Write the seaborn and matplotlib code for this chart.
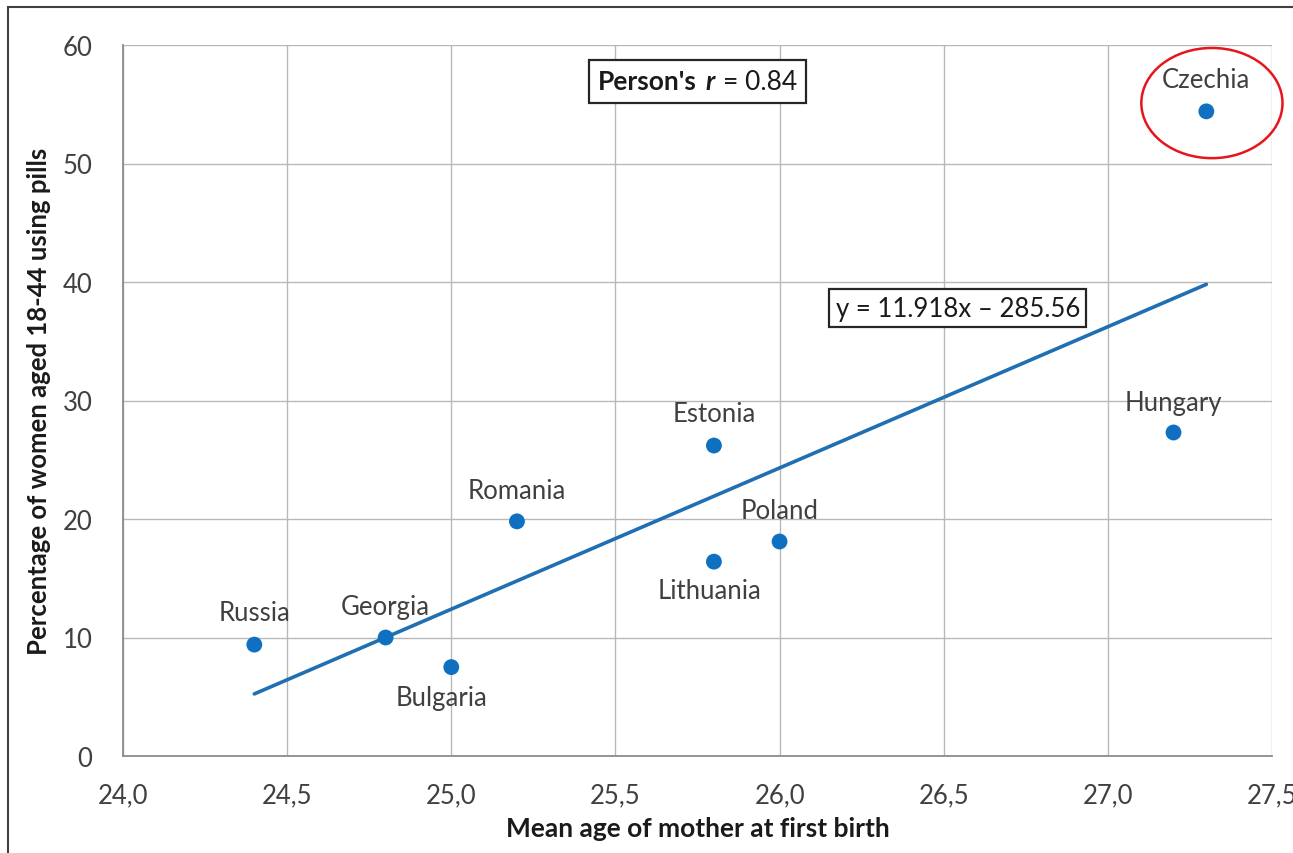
import numpy as np
import pandas as pd
import seaborn as sns
import matplotlib.pyplot as plt
from matplotlib.patches import Ellipse, Rectangle
from matplotlib.offsetbox import TextArea, HPacker, AnnotationBbox
from matplotlib.ticker import FuncFormatter, MultipleLocator

# data
countries = ['Russia', 'Georgia', 'Bulgaria', 'Romania', 'Estonia',
             'Lithuania', 'Poland', 'Hungary', 'Czechia']
mean_age = [24.4, 24.8, 25.0, 25.2, 25.8, 25.8, 26.0, 27.2, 27.3]
pill_pct = [9.4, 10.0, 7.5, 19.8, 26.2, 16.4, 18.1, 27.3, 54.4]

# trend line as given on the chart
slope = 11.918
intercept = -285.56

# label offsets in pixels (dx, dy)
label_offsets = {
    'Russia': (0, 32), 'Georgia': (0, 31), 'Bulgaria': (-10, -30),
    'Romania': (0, 31), 'Estonia': (0, 32), 'Lithuania': (-4, -29),
    'Poland': (0, 31), 'Hungary': (0, 30), 'Czechia': (0, 32),
}

df = pd.DataFrame({'country': countries, 'age': mean_age, 'pct': pill_pct})

sns.set_theme(style='white')
plt.rcParams['font.family'] = ['Lato', 'DejaVu Sans']

TXT = '#404040'
BLUE = '#0F6FC0'
LINE = '#1F6FB2'

fig = plt.figure(figsize=(12.93, 8.54), dpi=100)
ax = fig.add_axes([123 / 1293, 1 - 757 / 854, (1272 - 123) / 1293, (757 - 46) / 854])

# trend line
xl = np.array([df['age'].min(), df['age'].max()])
sns.lineplot(x=xl, y=slope * xl + intercept, ax=ax, color=LINE, lw=2.6, zorder=3)

sns.scatterplot(data=df, x='age', y='pct', ax=ax, s=130, color=BLUE,
                edgecolor='none', zorder=4)

for _, row in df.iterrows():
    dx, dy = label_offsets[row['country']]
    ax.annotate(row['country'], (row['age'], row['pct']), xytext=(dx, dy),
                textcoords='offset pixels', ha='center', va='center',
                fontsize=18.5, color=TXT, zorder=5)

ax.set_xlim(24.0, 27.5)
ax.set_ylim(0, 60)
ax.xaxis.set_major_locator(MultipleLocator(0.5))
ax.yaxis.set_major_locator(MultipleLocator(10))
ax.xaxis.set_major_formatter(FuncFormatter(lambda v, p: f'{v:.1f}'.replace('.', ',')))
ax.grid(True, color='#B8B8B8', lw=1.0)
ax.set_axisbelow(True)
for sp in ax.spines.values():
    sp.set_visible(False)
for side in ['left', 'bottom']:
    ax.spines[side].set_visible(True)
    ax.spines[side].set_color('#8C8C8C')
    ax.spines[side].set_linewidth(1.3)
ax.tick_params(axis='both', length=0, labelsize=18.5, labelcolor=TXT)
ax.tick_params(axis='y', pad=22)
ax.tick_params(axis='x', pad=19)

ax.set_xlabel('Mean age of mother at first birth', fontsize=19, fontweight='bold',
              color='#1A1A1A', labelpad=6)
ax.set_ylabel('Percentage of women aged 18-44 using pills', fontsize=18.5,
              fontweight='bold', color='#1A1A1A', labelpad=8)

# Pearson box
parts = [TextArea("Person's", textprops=dict(fontsize=19, fontweight='bold', color='#1A1A1A')),
         TextArea("r", textprops=dict(fontsize=19, fontweight='bold', fontstyle='italic', color='#1A1A1A')),
         TextArea("= 0.84", textprops=dict(fontsize=19, color='#1A1A1A'))]
box = HPacker(children=parts, sep=6, pad=0, align='baseline')
ab = AnnotationBbox(box, (25.75, 56.9), frameon=True, pad=0.6, zorder=6,
                    bboxprops=dict(edgecolor='#262626', lw=1.6, facecolor='white',
                                   boxstyle='square,pad=0.6'))
ax.add_artist(ab)

# equation box
ax.text(26.543, 37.8, 'y = 11.918x \u2013 285.56', ha='center', va='center',
        fontsize=18.5, color='#1A1A1A', zorder=6,
        bbox=dict(boxstyle='square,pad=0.25', facecolor='white', edgecolor='#262626', lw=1.6))

# red circle around Czechia
ax.add_patch(Ellipse((27.317, 55.1), 0.43, 9.3, fill=False, edgecolor='#E8141C',
                     lw=1.8, clip_on=False, zorder=6))

# outer frame of the cropped chart
fig.add_artist(Rectangle((8 / 1293, -0.1), 1.2, 1 - 8 / 854 + 0.1, transform=fig.transFigure,
                         fill=False, edgecolor='#404040', lw=1.5))

fig.savefig('out.png', dpi=100)
